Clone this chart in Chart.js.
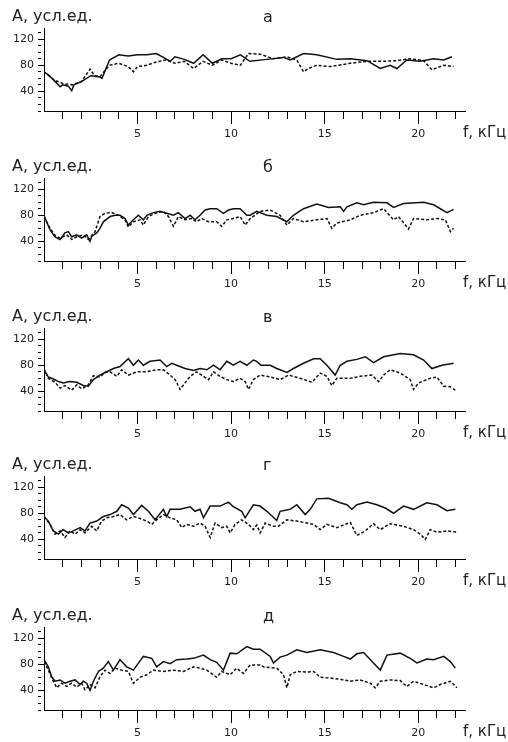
<!DOCTYPE html>
<html>
<head>
<meta charset="utf-8">
<script src="https://cdn.jsdelivr.net/npm/chart.js@4.4.0/dist/chart.umd.min.js"></script>
<style>
  html, body { margin: 0; padding: 0; background: #fff; overflow: hidden; }
  .panel { position: absolute; left: 0; width: 508px; height: 145px; }
  .panel canvas { position: absolute; left: 0; top: 0; }
  .txt { position: absolute; font-family: "DejaVu Sans", sans-serif; color: #222; line-height: 20px; white-space: nowrap; }
</style>
</head>
<body>
<script>
// text
const yTitle = "А, усл.ед.";
const xTitle = "f, кГц";
const panelLetters = ["а", "б", "в", "г", "д"];
const xTickLabels = [5, 10, 15, 20];
const yTickLabels = [40, 80, 120];

// [f, kHz ; A], solid and dashed curve per panel
const solidA = [[0,70],[0.25,65],[0.5,58],[0.86,47],[1,50],[1.3,48],[1.48,41],[1.6,50],[2,55],[2.5,64],[3,62],[3.1,60],[3.5,88],[4,96],[4.5,94],[5,96],[5.5,96],[6,98],[6.5,90],[6.75,86],[7,93],[7.5,89],[8,83],[8.5,96],[9,83],[9.5,90],[10,90],[10.5,96],[11,86],[11.91,89],[12.8,92],[13.16,88],[13.87,98],[14.58,96],[15.65,89],[16.37,90],[17.26,87],[17.97,75],[18.5,80],[18.86,75],[19.39,88],[20.11,86],[20.82,90],[21.36,88],[21.8,93]];
const dashedA = [[0,70],[0.5,58],[1,52],[1.5,50],[2,55],[2.46,74],[2.7,64],[3,63],[3.5,80],[4,83],[4.5,78],[4.78,70],[5,78],[5.5,80],[6,85],[6.5,88],[7,83],[7.5,86],[8,75],[8.5,86],[9,80],[9.5,88],[10,83],[10.5,80],[10.93,98],[11.55,97],[12.26,90],[12.98,93],[13.51,88],[13.87,70],[14.14,75],[14.58,80],[15.29,78],[16.37,83],[17.26,86],[18.15,86],[18.86,87],[19.57,90],[20.29,87],[20.73,73],[21.36,80],[21.89,78]];

const solidB = [[0,80],[0.14,70],[0.32,58],[0.59,47],[0.86,43],[1.12,53],[1.3,55],[1.48,47],[1.75,50],[2.01,45],[2.28,50],[2.46,40],[2.55,48],[2.82,53],[2.99,60],[3.17,70],[3.53,78],[3.8,80],[4.06,80],[4.33,75],[4.51,65],[4.78,73],[5.04,80],[5.31,73],[5.49,80],[5.85,84],[6.2,86],[6.56,83],[6.92,80],[7.18,84],[7.54,75],[7.81,80],[8.07,73],[8.34,80],[8.61,88],[8.88,90],[9.23,90],[9.59,83],[9.86,88],[10.12,90],[10.48,90],[10.84,80],[11.02,80],[11.37,86],[11.91,80],[12.44,78],[12.98,70],[13.33,80],[13.87,90],[14.58,97],[15.21,92],[15.83,93],[16.01,86],[16.19,93],[16.72,99],[17.08,96],[17.61,100],[18.33,99],[18.68,92],[19.22,98],[20.29,100],[20.82,96],[21.54,84],[21.89,89]];
const dashedB = [[0,78],[0.32,60],[0.59,49],[0.86,45],[1.21,50],[1.48,43],[1.75,47],[2.1,50],[2.37,43],[2.73,55],[2.99,78],[3.26,83],[3.62,84],[3.98,80],[4.33,73],[4.51,62],[4.78,70],[5.13,73],[5.31,65],[5.58,78],[5.94,83],[6.38,86],[6.65,78],[6.92,63],[7.18,78],[7.54,73],[7.9,75],[8.16,70],[8.43,75],[8.79,70],[9.23,70],[9.5,63],[9.77,73],[10.12,75],[10.48,78],[10.75,65],[11.02,75],[11.55,86],[12.09,88],[12.62,80],[12.98,65],[13.33,75],[13.87,70],[14.58,73],[15.12,75],[15.38,60],[15.65,68],[16.37,73],[16.9,80],[17.61,84],[18.15,90],[18.68,73],[18.95,78],[19.48,59],[19.75,75],[20.46,73],[21,75],[21.45,73],[21.72,55],[21.89,60]];

const solidC = [[0,73],[0.23,62],[0.5,59],[0.77,55],[1.03,53],[1.39,55],[1.75,54],[2.1,49],[2.37,48],[2.64,58],[2.99,65],[3.35,70],[3.71,75],[4.06,78],[4.51,90],[4.78,80],[5.04,88],[5.31,80],[5.67,86],[6.2,88],[6.56,78],[6.83,83],[7.09,80],[7.54,75],[7.99,72],[8.34,75],[8.7,73],[9.06,80],[9.41,73],[9.77,86],[10.12,80],[10.48,86],[10.84,80],[11.19,88],[11.37,86],[11.6,80],[12.09,80],[12.44,75],[12.98,69],[13.33,75],[13.87,83],[14.41,90],[14.76,90],[15.12,80],[15.56,65],[15.83,80],[16.19,86],[16.72,89],[17.17,93],[17.61,84],[18.15,93],[19.04,98],[19.75,96],[20.29,88],[20.73,75],[21.27,80],[21.89,83]];
const dashedC = [[0,75],[0.23,60],[0.59,54],[0.86,45],[1.12,49],[1.48,42],[1.75,50],[2.01,44],[2.37,50],[2.64,64],[2.99,62],[3.26,69],[3.53,70],[3.89,63],[4.15,73],[4.51,65],[4.96,70],[5.49,70],[6.02,73],[6.38,73],[6.74,65],[7.01,58],[7.27,43],[7.54,53],[7.81,63],[8.16,70],[8.52,63],[8.79,58],[9.06,70],[9.41,63],[9.77,58],[10.12,55],[10.48,60],[10.75,55],[10.93,43],[11.19,58],[11.55,65],[12.09,62],[12.62,58],[13.07,65],[13.69,60],[14.33,54],[14.76,68],[15.12,63],[15.38,49],[15.65,60],[16.37,60],[16.9,63],[17.52,65],[17.88,55],[18.15,65],[18.5,73],[19.04,68],[19.57,58],[19.75,43],[20.02,53],[20.64,60],[21,62],[21.36,48],[21.72,47],[22.07,40]];

const solidD = [[0,75],[0.23,68],[0.5,53],[0.77,48],[1.03,55],[1.3,50],[1.57,53],[1.93,58],[2.19,53],[2.46,65],[2.82,68],[3.17,75],[3.53,78],[3.89,83],[4.15,93],[4.51,88],[4.78,78],[5.22,92],[5.58,83],[5.94,70],[6.38,86],[6.56,75],[6.74,86],[7.27,86],[7.81,90],[8.07,83],[8.34,86],[8.52,73],[8.88,91],[9.41,91],[9.86,97],[10.12,90],[10.57,83],[10.75,73],[11.19,93],[11.55,91],[11.91,83],[12.44,69],[12.62,83],[13.16,86],[13.51,93],[13.96,78],[14.23,86],[14.58,102],[15.21,103],[15.83,96],[16.19,93],[16.45,86],[16.72,93],[17.26,97],[17.79,93],[18.24,88],[18.68,80],[19.22,91],[19.75,86],[20.46,96],[21,93],[21.54,84],[21.98,86]];
const dashedD = [[0,75],[0.32,63],[0.59,48],[0.86,53],[1.12,43],[1.39,53],[1.66,48],[1.93,55],[2.19,50],[2.55,60],[2.82,53],[3.08,68],[3.35,73],[3.71,75],[4.06,78],[4.42,70],[4.78,75],[5.04,73],[5.49,68],[5.76,63],[6.02,70],[6.38,78],[6.74,73],[7.09,70],[7.36,58],[7.63,63],[7.99,60],[8.34,65],[8.61,60],[8.88,43],[9.14,65],[9.5,58],[9.77,60],[9.95,50],[10.21,63],[10.57,70],[10.93,63],[11.19,55],[11.37,62],[11.55,50],[11.82,65],[12.26,60],[12.53,60],[12.98,70],[13.51,68],[14.05,65],[14.41,63],[14.76,55],[15.12,63],[15.65,58],[16.37,66],[16.72,46],[17.17,53],[17.61,64],[17.97,55],[18.5,64],[19.22,60],[19.75,55],[20.11,48],[20.38,40],[20.64,55],[21,51],[21.54,53],[22.07,51]];

const solidE = [[0,87],[0.23,76],[0.41,61],[0.59,54],[0.86,56],[1.12,51],[1.39,54],[1.66,56],[1.93,49],[2.1,54],[2.28,51],[2.46,40],[2.64,54],[2.91,69],[3.17,74],[3.44,84],[3.71,71],[4.06,87],[4.42,76],[4.78,71],[5.31,92],[5.76,89],[6.02,76],[6.38,84],[6.74,81],[7.09,87],[7.63,88],[7.99,89],[8.52,94],[8.88,87],[9.23,83],[9.59,71],[9.95,97],[10.3,96],[10.84,107],[11.19,103],[11.55,103],[12.09,92],[12.26,82],[12.62,91],[12.98,94],[13.51,102],[14.05,98],[14.76,102],[15.47,98],[16.01,92],[16.37,88],[16.72,96],[17.08,98],[17.61,82],[17.97,71],[18.33,94],[19.04,97],[19.57,89],[19.93,82],[20.46,88],[20.82,87],[21.36,92],[21.72,84],[21.98,74]];
const dashedE = [[0,84],[0.23,71],[0.41,59],[0.68,44],[0.94,51],[1.21,46],[1.48,51],[1.75,45],[2.01,51],[2.19,41],[2.46,49],[2.73,44],[2.99,61],[3.26,71],[3.53,66],[3.8,74],[4.15,71],[4.51,69],[4.78,51],[5.13,60],[5.49,64],[5.85,71],[6.38,69],[6.92,71],[7.45,69],[7.99,76],[8.34,74],[8.7,71],[9.23,60],[9.5,69],[9.95,64],[10.3,74],[10.66,66],[11.02,79],[11.55,79],[11.73,76],[12.44,74],[12.8,64],[12.98,44],[13.16,64],[13.51,69],[14.05,68],[14.41,69],[14.76,60],[15.29,59],[15.83,57],[16.37,54],[16.9,56],[17.44,51],[17.7,44],[17.97,54],[18.5,56],[19.04,55],[19.39,46],[19.75,54],[20.29,49],[20.82,44],[21.18,49],[21.72,54],[22.07,44]];

const solids = [solidA, solidB, solidC, solidD, solidE];
const dashes = [dashedA, dashedB, dashedC, dashedD, dashedE];
const panelTops = [0, 150, 300, 448, 599];

function addText(box, str, left, top, size) {
  const d = document.createElement("div");
  d.className = "txt";
  d.textContent = str;
  d.style.left = left + "px";
  d.style.top = top + "px";
  d.style.fontSize = size + "px";
  box.appendChild(d);
}

const toXY = (arr) => arr.map((p) => ({ x: p[0], y: p[1] }));
const tickFont = { family: "DejaVu Sans", size: 11 };

panelLetters.forEach((letter, i) => {
  const box = document.createElement("div");
  box.className = "panel";
  box.style.top = panelTops[i] + "px";
  const cv = document.createElement("canvas");
  cv.width = 508;
  cv.height = 145;
  box.appendChild(cv);
  addText(box, yTitle, 12, 5.5, 16);
  addText(box, letter, 263, 7, 16);
  addText(box, xTitle, 463, 122, 15);
  document.body.appendChild(box);

  new Chart(cv, {
    type: "line",
    data: {
      datasets: [
        { data: toXY(solids[i]), borderColor: "#111", borderWidth: 1.5, pointRadius: 0, tension: 0, fill: false },
        { data: toXY(dashes[i]), borderColor: "#111", borderWidth: 1.5, borderDash: [3, 2], pointRadius: 0, tension: 0, fill: false },
      ],
    },
    options: {
      responsive: false,
      animation: false,
      devicePixelRatio: 1,
      layout: { padding: { top: 28, right: 43, left: 0, bottom: 0 } },
      plugins: { legend: { display: false }, tooltip: { enabled: false } },
      scales: {
        x: {
          type: "linear",
          min: 0,
          max: 22.5,
          afterFit: (s) => { s.height = 34; },
          border: { color: "#000", width: 1 },
          grid: {
            drawOnChartArea: false,
            color: "#000",
            tickLength: 13,
            tickColor: (c) => (c.tick && c.tick.value === 0 ? "rgba(0,0,0,0)" : "#000"),
            tickBorderDash: (c) => (c.tick && c.tick.value % 5 === 0 ? [] : [7, 30]),
          },
          ticks: {
            stepSize: 1,
            maxTicksLimit: 100,
            autoSkip: false,
            includeBounds: false,
            maxRotation: 0,
            minRotation: 0,
            padding: 4,
            color: "#222",
            font: tickFont,
            callback: (v) => (xTickLabels.includes(v) ? String(v) : ""),
          },
        },
        y: {
          min: 10,
          max: 137,
          afterFit: (s) => { s.width = 44; },
          border: { color: "#000", width: 1 },
          grid: {
            drawOnChartArea: false,
            color: "#000",
            tickLength: 6,
            tickBorderDash: (c) => (c.tick && yTickLabels.includes(c.tick.value) ? [] : [3, 20]),
          },
          ticks: {
            stepSize: 10,
            maxTicksLimit: 100,
            autoSkip: false,
            includeBounds: false,
            padding: 4,
            color: "#222",
            font: tickFont,
            callback: (v) => (yTickLabels.includes(v) ? String(v) : ""),
          },
        },
      },
    },
  });
});
</script>
</body>
</html>
